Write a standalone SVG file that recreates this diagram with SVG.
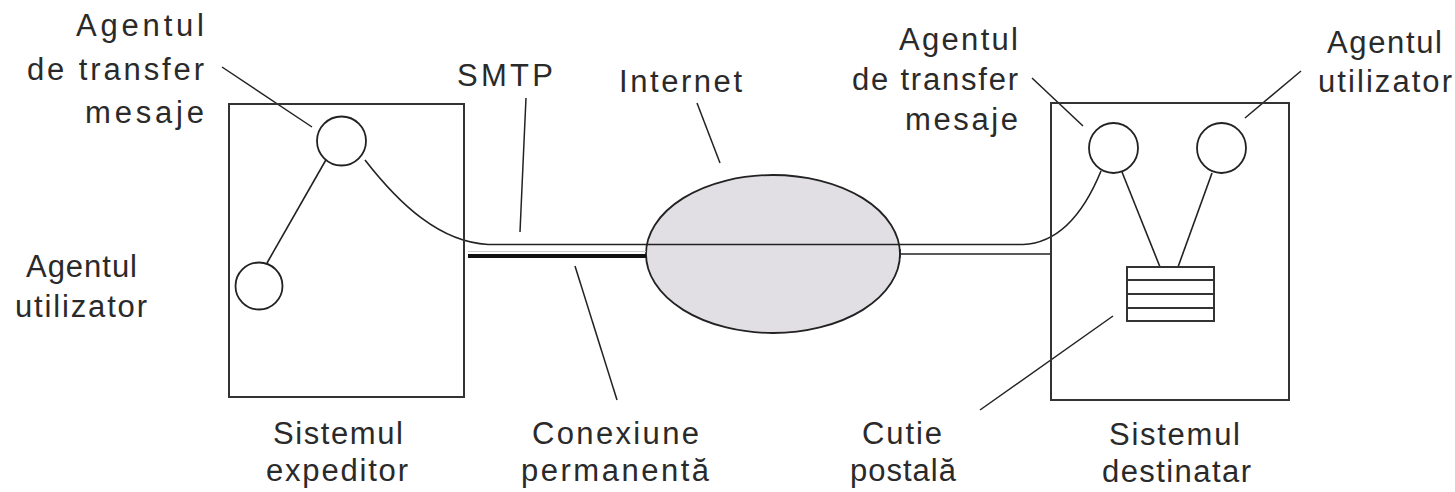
<svg xmlns="http://www.w3.org/2000/svg" width="1455" height="492" viewBox="0 0 1455 492">
<style>
.box{fill:none;stroke:#333;stroke-width:2}
.ln{fill:none;stroke:#222;stroke-width:1.6}
.lead{fill:none;stroke:#222;stroke-width:1.5}
.circ{fill:#fff;stroke:#222;stroke-width:1.8}
text{font-family:"Liberation Sans",Arial,sans-serif;font-size:31px;fill:#2a2a2a}
</style>
<rect width="1455" height="492" fill="#fff"/>
<g id="internet">
<ellipse cx="773" cy="254" rx="127" ry="79" fill="#e2dfe4" stroke="#222" stroke-width="1.8"/>
<text x="619" y="92" textLength="123" lengthAdjust="spacing">Internet</text>
</g>
<g id="connectors">
<path class="ln" d="M365,160 C400,205 440,242 488,244.5 L1023,244.5 C1060,243 1085,210 1101,171"/>
<line x1="468" y1="256" x2="646" y2="256" stroke="#111" stroke-width="4"/>
<line x1="468" y1="251.5" x2="646" y2="251.5" stroke="#ccc" stroke-width="1"/>
<line class="ln" x1="900" y1="254" x2="1051" y2="254"/>
<line class="ln" x1="900" y1="249" x2="900" y2="258"/>
<line class="ln" x1="327" y1="158" x2="267" y2="263"/>
<line class="ln" x1="1122" y1="172" x2="1160" y2="267"/>
<line class="ln" x1="1212" y1="173" x2="1178" y2="267"/>
<line class="lead" x1="222" y1="67" x2="312" y2="127"/>
<polyline class="lead" points="526,98 524,142 520,232"/>
<line class="lead" x1="697" y1="103" x2="720" y2="163"/>
<line class="lead" x1="575" y1="266" x2="617" y2="400"/>
<line class="lead" x1="1113" y1="316" x2="980" y2="410"/>
<line class="lead" x1="1032" y1="78" x2="1083" y2="126"/>
<line class="lead" x1="1301" y1="71" x2="1245" y2="118"/>
</g>
<g id="sistem-expeditor">
<rect class="box" x="229" y="104" width="235" height="293"/>
<text x="273" y="444" textLength="130" lengthAdjust="spacing">Sistemul</text>
<text x="266" y="481" textLength="142" lengthAdjust="spacing">expeditor</text>
</g>
<g id="sistem-destinatar">
<rect class="box" x="1051" y="103" width="238" height="297"/>
<text x="1109" y="445" textLength="131" lengthAdjust="spacing">Sistemul</text>
<text x="1102" y="482" textLength="149" lengthAdjust="spacing">destinatar</text>
</g>
<g id="mta-expeditor">
<circle class="circ" cx="341.5" cy="141" r="24.5"/>
<text x="204" y="36" text-anchor="end" textLength="128" lengthAdjust="spacing">Agentul</text>
<text x="204" y="80" text-anchor="end" textLength="177" lengthAdjust="spacing">de transfer</text>
<text x="204" y="123" text-anchor="end" textLength="119" lengthAdjust="spacing">mesaje</text>
</g>
<g id="ua-expeditor">
<circle class="circ" cx="259" cy="286" r="23.5"/>
<text x="26" y="277" textLength="111" lengthAdjust="spacing">Agentul</text>
<text x="15" y="317" textLength="132" lengthAdjust="spacing">utilizator</text>
</g>
<g id="mta-destinatar">
<ellipse class="circ" cx="1113.5" cy="148" rx="24.5" ry="25"/>
<text x="1018" y="50" text-anchor="end" textLength="119" lengthAdjust="spacing">Agentul</text>
<text x="1018" y="90" text-anchor="end" textLength="166" lengthAdjust="spacing">de transfer</text>
<text x="1018" y="130" text-anchor="end" textLength="113" lengthAdjust="spacing">mesaje</text>
</g>
<g id="ua-destinatar">
<ellipse class="circ" cx="1221.5" cy="148" rx="24.5" ry="25"/>
<text x="1327" y="53" textLength="115" lengthAdjust="spacing">Agentul</text>
<text x="1318" y="92" textLength="134" lengthAdjust="spacing">utilizator</text>
</g>
<g id="cutie-postala">
<rect class="box" x="1127" y="267" width="87" height="54" fill="#fff"/>
<line class="box" x1="1127" y1="280" x2="1214" y2="280"/>
<line class="box" x1="1127" y1="294" x2="1214" y2="294"/>
<line class="box" x1="1127" y1="308" x2="1214" y2="308"/>
<text x="862" y="444" textLength="80" lengthAdjust="spacing">Cutie</text>
<text x="850" y="481" textLength="106" lengthAdjust="spacing">postală</text>
</g>
<g id="smtp">
<text x="457" y="86" textLength="96" lengthAdjust="spacing">SMTP</text>
</g>
<g id="conexiune">
<text x="532" y="444" textLength="167" lengthAdjust="spacing">Conexiune</text>
<text x="521" y="481" textLength="188" lengthAdjust="spacing">permanentă</text>
</g>
</svg>
